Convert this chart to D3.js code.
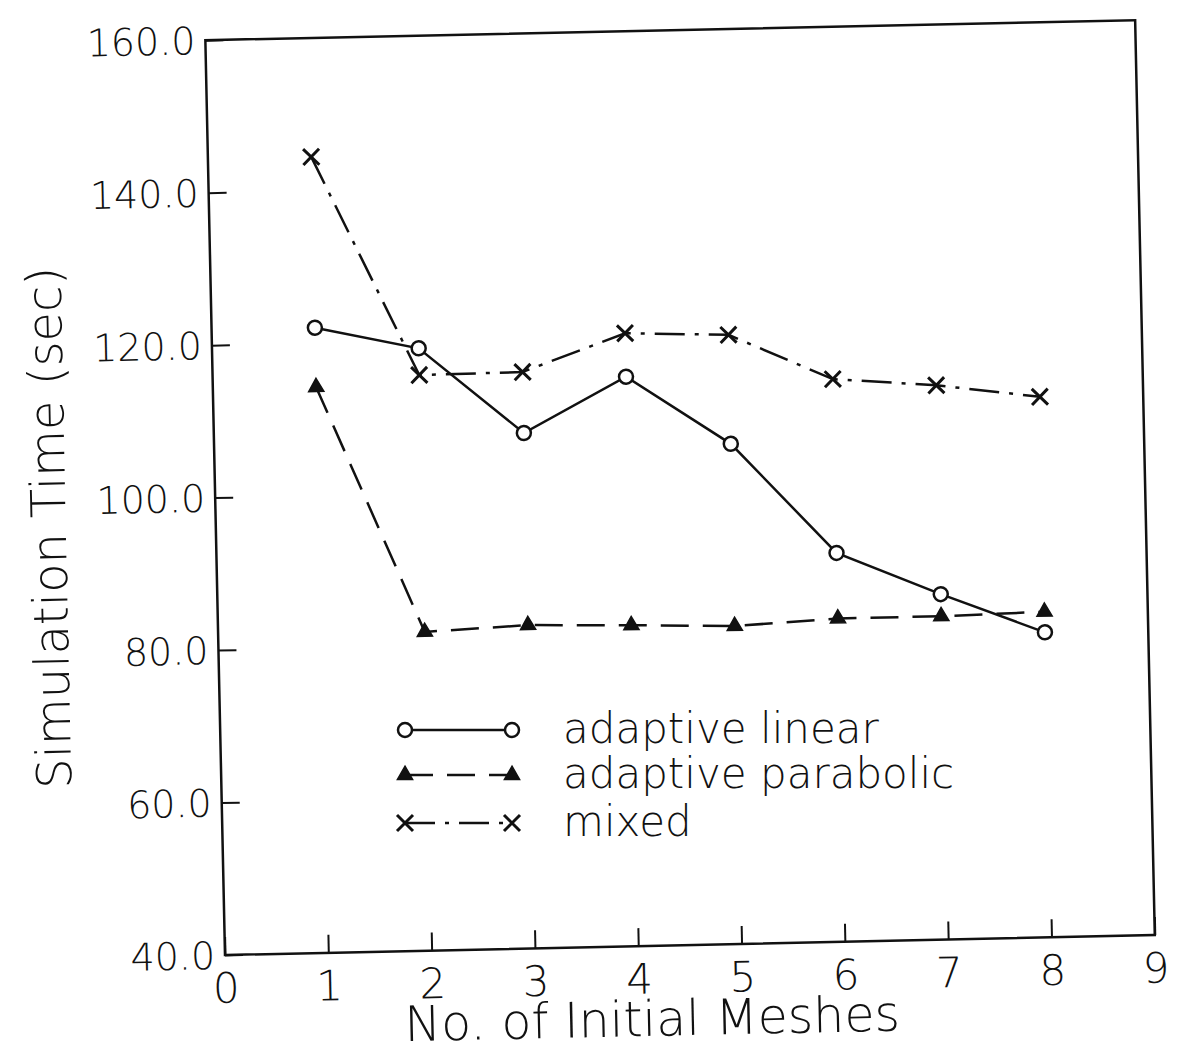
<!DOCTYPE html>
<html>
<head>
<meta charset="utf-8">
<script src="https://cdn.jsdelivr.net/npm/d3@7"></script>
<style>
  body { margin: 0; background: #fff; }
  text { font-family: "DejaVu Sans", "Liberation Sans", sans-serif; font-weight: 200; fill: #111; }
</style>
</head>
<body>
<svg id="chart" width="1183" height="1053"></svg>
<script>
// Data
var meshes = [1, 2, 3, 4, 5, 6, 7, 8];
var linearTime = [122.0, 119.0, 107.6, 114.7, 105.6, 91.0, 85.3, 80.0];
var parabolicTime = [114.2, 81.8, 82.4, 82.1, 81.7, 82.4, 82.4, 82.7];
var mixedTime = [144.4, 115.5, 115.6, 120.4, 119.9, 113.8, 112.7, 110.9];
var xTicks = [0, 1, 2, 3, 4, 5, 6, 7, 8, 9];
var yTicks = [40, 60, 80, 100, 120, 140, 160];
var seriesNames = ["adaptive linear", "adaptive parabolic", "mixed"];

// Layout
var ORIGIN_X = 225;
var ORIGIN_Y = 955;
var PLOT_W = 930;
var PLOT_H = 915;
var SKEW = -1.23; // the scan is slightly rotated

var svg = d3.select("#chart");
svg.append("rect").attr("width", 1183).attr("height", 1053).attr("fill", "#fff");

var x = d3.scaleLinear().domain([0, 9]).range([0, PLOT_W]);
var y = d3.scaleLinear().domain([40, 160]).range([0, -PLOT_H]);

var g = svg.append("g")
  .attr("transform", "translate(" + ORIGIN_X + "," + ORIGIN_Y + ") rotate(" + SKEW + ")");

// frame
g.append("rect")
  .attr("x", 0).attr("y", -PLOT_H)
  .attr("width", PLOT_W).attr("height", PLOT_H)
  .attr("fill", "none").attr("stroke", "#111").attr("stroke-width", 2.5);

// x axis: inward ticks, labels below
var xAxis = d3.axisBottom(x).tickValues(xTicks).tickSize(-18).tickPadding(12).tickFormat(d3.format("d"));
var xg = g.append("g").call(xAxis);
xg.select(".domain").remove();
xg.selectAll(".tick line").attr("stroke", "#111").attr("stroke-width", 2);
xg.selectAll(".tick text").attr("font-size", 42).attr("dy", "0.85em");

// y axis: inward ticks, labels left
var yAxis = d3.axisLeft(y).tickValues(yTicks).tickSize(-18).tickPadding(10).tickFormat(d3.format(".1f"));
var yg = g.append("g").call(yAxis);
yg.select(".domain").remove();
yg.selectAll(".tick line").attr("stroke", "#111").attr("stroke-width", 2);
yg.selectAll(".tick text").attr("font-size", 38).attr("dy", "0.35em");

// axis titles
g.append("text")
  .attr("x", x(4.12)).attr("y", 90)
  .attr("text-anchor", "middle").attr("font-size", 49)
  .text("No. of Initial Meshes");
g.append("text")
  .attr("transform", "translate(-150," + y(96.5) + ") rotate(-90)")
  .attr("text-anchor", "middle").attr("font-size", 48)
  .text("Simulation Time (sec)");

var line = d3.line().x(function(d) { return x(d[0]); }).y(function(d) { return y(d[1]); });

function zip(vals) { return meshes.map(function(m, i) { return [m, vals[i]]; }); }

var series = [
  { name: seriesNames[0], values: zip(linearTime), dash: null, marker: "circle" },
  { name: seriesNames[1], values: zip(parabolicTime), dash: "28,14", marker: "triangle" },
  { name: seriesNames[2], values: zip(mixedTime), dash: "30,10,4,10", marker: "cross" }
];

var triangle = d3.symbol().type(d3.symbolTriangle).size(100);

function drawMarker(sel, kind) {
  if (kind === "circle") {
    sel.append("circle").attr("r", 7).attr("fill", "#fff").attr("stroke", "#111").attr("stroke-width", 2.5);
  } else if (kind === "triangle") {
    sel.append("path").attr("d", triangle()).attr("fill", "#111").attr("stroke", "#111").attr("stroke-width", 1.5);
  } else {
    sel.append("path").attr("d", "M-8,-8L8,8M-8,8L8,-8").attr("stroke", "#111").attr("stroke-width", 3);
  }
}

series.forEach(function(s) {
  g.append("path")
    .datum(s.values)
    .attr("d", line)
    .attr("fill", "none")
    .attr("stroke", "#111")
    .attr("stroke-width", 2.5)
    .attr("stroke-dasharray", s.dash);
  g.selectAll(null)
    .data(s.values)
    .enter().append("g")
    .attr("transform", function(d) { return "translate(" + x(d[0]) + "," + y(d[1]) + ")"; })
    .each(function() { drawMarker(d3.select(this), s.marker); });
});

// legend (drawn in page space, like the original)
var legendY = [730, 775, 823];
var legend = svg.append("g");
series.forEach(function(s, i) {
  var row = legend.append("g").attr("transform", "translate(0," + legendY[i] + ")");
  row.append("line")
    .attr("x1", 405).attr("x2", 512).attr("y1", 0).attr("y2", 0)
    .attr("stroke", "#111").attr("stroke-width", 2.5)
    .attr("stroke-dasharray", s.dash);
  drawMarker(row.append("g").attr("transform", "translate(405,0)"), s.marker);
  drawMarker(row.append("g").attr("transform", "translate(512,0)"), s.marker);
  row.append("text")
    .attr("x", 563).attr("y", 0).attr("dy", "0.3em")
    .attr("font-size", 42)
    .text(s.name);
});
</script>
</body>
</html>
